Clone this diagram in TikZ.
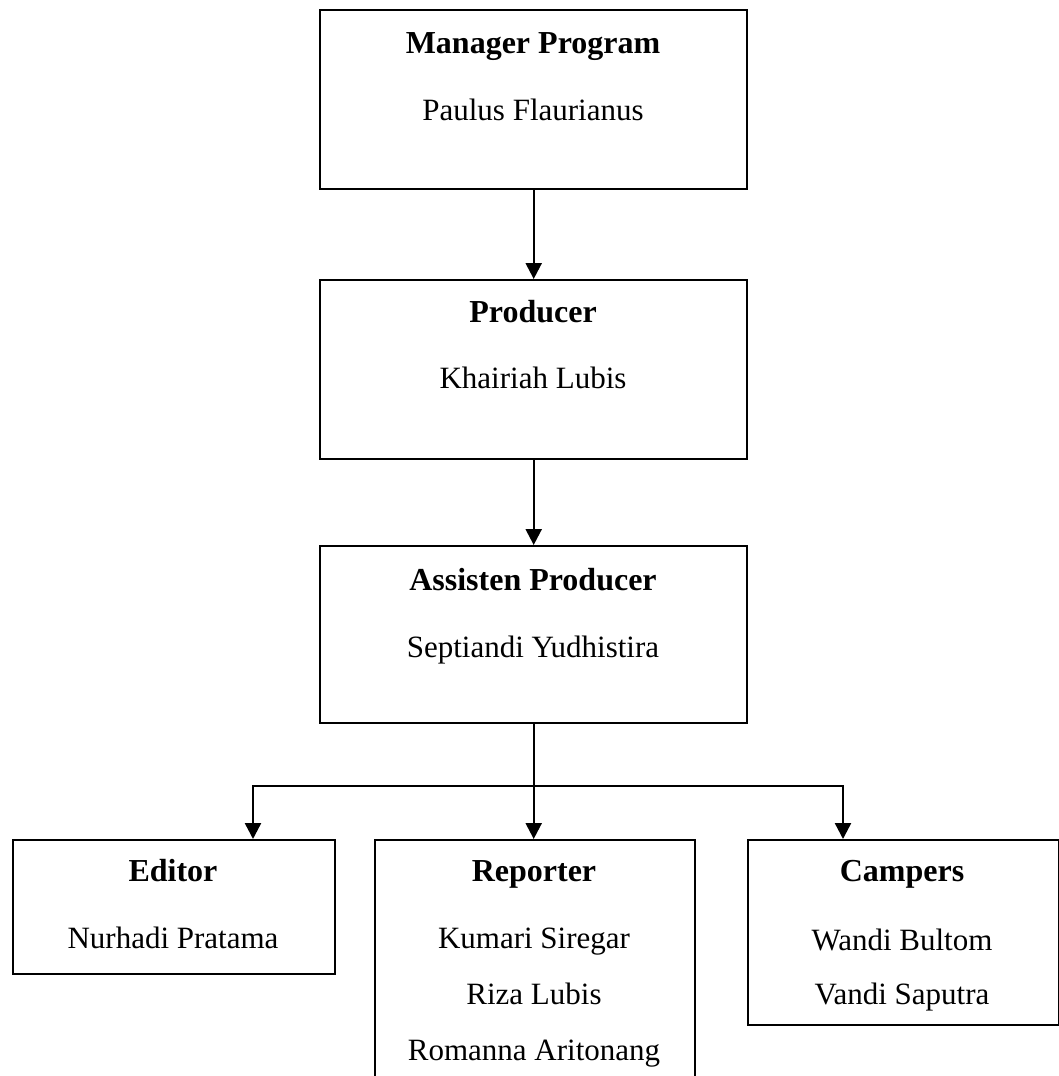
\documentclass[tikz,border=0pt]{standalone}
\usepackage{fontspec}
\setmainfont{Liberation Serif}
\usetikzlibrary{arrows.meta}
\begin{document}
\begin{tikzpicture}[x=1pt,y=-1pt,
  box/.style={draw,line width=2.4pt,inner sep=0pt,anchor=north west},
  headtxt/.style={font=\fontsize{32}{38}\selectfont\bfseries,inner sep=0pt,anchor=base},
  nametxt/.style={font=\fontsize{31}{37}\selectfont,inner sep=0pt,anchor=base},
  conn/.style={line width=2.4pt,-{Triangle[length=16pt,width=16pt]}},
  plainline/.style={line width=2.4pt}]
\useasboundingbox (0,0) rectangle (1059,1076);
\clip (0,0) rectangle (1059,1076);

% boxes
\node[box,minimum width=427pt,minimum height=179pt] (mgr) at (319,9) {};
\node[box,minimum width=427pt,minimum height=179pt] (prod) at (319,279) {};
\node[box,minimum width=427pt,minimum height=177pt] (asst) at (319,545) {};
\node[box,minimum width=322pt,minimum height=134pt] (editor) at (12,839) {};
\node[box,minimum width=320pt,minimum height=280pt] (reporter) at (374,839) {};
\node[box,minimum width=311pt,minimum height=185pt] (campers) at (747,839) {};

% texts
\node[headtxt] (t1) at (533,53) {Manager Program};
\node[nametxt] (t2) at (533,120) {Paulus Flaurianus};
\node[headtxt] (t3) at (533,322) {Producer};
\node[nametxt] (t4) at (533,388) {Khairiah Lubis};
\node[headtxt] (t5) at (533,590) {Assisten Producer};
\node[nametxt] (t6) at (533,657) {Septiandi Yudhistira};
\node[headtxt] (t7) at (173,881) {Editor};
\node[nametxt] (t8) at (173,948) {Nurhadi Pratama};
\node[headtxt] (t9) at (534,881) {Reporter};
\node[nametxt] (t10) at (534,948) {Kumari Siregar};
\node[nametxt] (t11) at (534,1004) {Riza Lubis};
\node[nametxt] (t12) at (534,1060) {Romanna Aritonang};
\node[headtxt] (t13) at (902,881) {Campers};
\node[nametxt] (t14) at (902,950) {Wandi Bultom};
\node[nametxt] (t15) at (902,1004) {Vandi Saputra};

% connectors
\draw[conn] (mgr.south) -- (prod.north);
\draw[conn] (prod.south) -- (asst.north);
\coordinate (j) at (asst.south |- 0,786);
\coordinate (jl) at (253,786);
\coordinate (jr) at (843,786);
\draw[plainline] (asst.south) -- (j);
\draw[plainline,line cap=rect] (jl) -- (jr);
\draw[conn] (jl) -- (jl |- editor.north);
\draw[conn] (j) -- (j |- reporter.north);
\draw[conn] (jr) -- (jr |- campers.north);
\end{tikzpicture}
\end{document}
